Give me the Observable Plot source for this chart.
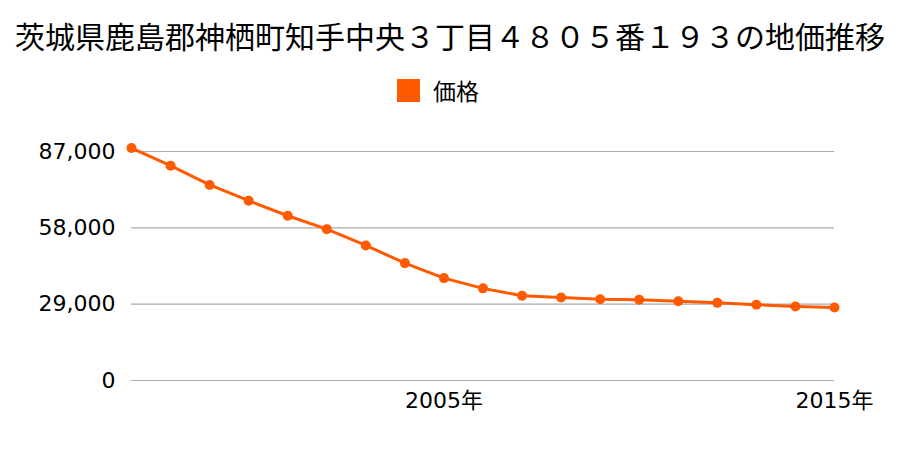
<!DOCTYPE html>
<html>
<head>
<meta charset="utf-8">
<script src="https://cdn.jsdelivr.net/npm/d3@7"></script>
<script src="https://cdn.jsdelivr.net/npm/@observablehq/plot@0.6"></script>
<style>
  html, body { margin: 0; padding: 0; background: #fff; }
  body { width: 900px; height: 450px; overflow: hidden; font-family: "Noto Sans CJK JP", sans-serif; }
  #title { height: 79px; box-sizing: border-box; padding-top: 14px; text-align: center; font-size: 30px; line-height: 42px; color: #000; white-space: nowrap; }
  #legend { height: 41px; display: flex; justify-content: center; align-items: flex-start; color: #000; }
  #legend .wrap { display: flex; align-items: center; height: 23px; margin-left: -24px; }
  #legend .sw { width: 23px; height: 23px; background: #ff5a00; margin-right: 13px; }
  #legend span { font-size: 23px; line-height: 23px; }
</style>
</head>
<body>
<div id="title">茨城県鹿島郡神栖町知手中央３丁目４８０５番１９３の地価推移</div>
<div id="legend"><div class="wrap"><div class="sw"></div><span>価格</span></div></div>
<div id="chart"></div>
<script>
const years = [1997, 1998, 1999, 2000, 2001, 2002, 2003, 2004, 2005, 2006, 2007, 2008, 2009, 2010, 2011, 2012, 2013, 2014, 2015];
const prices = [88300, 81600, 74300, 68300, 62600, 57500, 51300, 44600, 38900, 35000, 32200, 31500, 30900, 30700, 30100, 29500, 28800, 28100, 27700];
const yTicks = [0, 29000, 58000, 87000];
const xTicks = [2005, 2015];
const seriesName = "価格";

const data = years.map((y, i) => ({year: y, price: prices[i], series: seriesName}));

const chart = Plot.plot({
  width: 900,
  height: 330,
  marginLeft: 131,
  marginRight: 66,
  marginTop: 31,
  marginBottom: 70,
  style: {fontSize: "22px", fontFamily: "'DejaVu Sans', 'Noto Sans CJK JP', sans-serif", color: "#000", background: "#fff"},
  x: {domain: [1997, 2015], label: null},
  y: {domain: [0, 87000], label: null},
  marks: [
    Plot.gridY(yTicks, {stroke: "#aaa", strokeOpacity: 1, strokeWidth: 1.2}),
    Plot.axisY({ticks: yTicks, tickFormat: d3.format(","), tickSize: 0, tickPadding: 16, fontSize: 22, label: null}),
    Plot.axisX({ticks: xTicks, tickFormat: d => d + "年", tickSize: 0, tickPadding: 12, fontSize: 22, label: null}),
    Plot.line(data, {x: "year", y: "price", stroke: "#ff5a00", strokeWidth: 3}),
    Plot.dot(data, {x: "year", y: "price", fill: "#ff5a00", r: 5})
  ]
});
document.getElementById("chart").appendChild(chart);
</script>
</body>
</html>
